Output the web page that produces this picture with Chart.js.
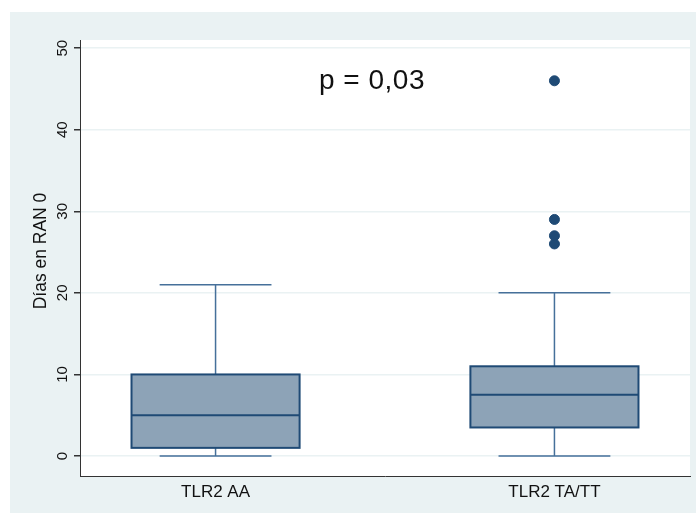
<!DOCTYPE html>
<html>
<head>
<meta charset="utf-8">
<script src="https://cdn.jsdelivr.net/npm/chart.js@4.4.1/dist/chart.umd.min.js"></script>
<style>
  html, body { margin: 0; padding: 0; background: #fff; }
  #wrap { width: 696px; height: 515px; }
</style>
</head>
<body>
<div id="wrap"><canvas id="chart" width="696" height="515"></canvas></div>
<script>
// groups and their box plot summaries
const groups = ['TLR2 AA', 'TLR2 TA/TT'];
const groupPos = [1, 2];
const whiskerLow = [0, 0];
const q1 = [1, 3.5];
const median = [5, 7.5];
const q3 = [10, 11];
const whiskerHigh = [21, 20];
const outliers = [[], [26, 27, 29, 46]];
const yTicks = [0, 10, 20, 30, 40, 50];
const yTitle = 'Días en RAN 0';
const pLabel = 'p = 0,03';

const navy = '#1f4a75';

const outlierPoints = [];
outliers.forEach((vals, i) => vals.forEach(v => outlierPoints.push({ x: groupPos[i], y: v })));

const boxPlugin = {
  id: 'boxes',
  beforeDraw(chart) {
    const { ctx } = chart;
    ctx.save();
    ctx.fillStyle = '#eaf2f3';
    ctx.fillRect(10, 12, 686, 501);
    const a = chart.chartArea;
    ctx.fillStyle = '#ffffff';
    ctx.fillRect(a.left, a.top, a.right - a.left, a.bottom - a.top);
    ctx.restore();
  },
  beforeDatasetsDraw(chart) {
    const { ctx, scales: { x, y } } = chart;
    ctx.save();
    groupPos.forEach((g, i) => {
      const cx = x.getPixelForValue(g);
      const left = x.getPixelForValue(g - 0.248);
      const right = x.getPixelForValue(g + 0.248);
      const capL = x.getPixelForValue(g - 0.165);
      const capR = x.getPixelForValue(g + 0.165);
      const pLow = y.getPixelForValue(whiskerLow[i]);
      const pQ1 = y.getPixelForValue(q1[i]);
      const pMed = y.getPixelForValue(median[i]);
      const pQ3 = y.getPixelForValue(q3[i]);
      const pHigh = y.getPixelForValue(whiskerHigh[i]);

      // whiskers
      ctx.strokeStyle = '#46709a';
      ctx.lineWidth = 1.5;
      ctx.beginPath();
      ctx.moveTo(cx, pQ1); ctx.lineTo(cx, pLow);
      ctx.moveTo(cx, pQ3); ctx.lineTo(cx, pHigh);
      ctx.moveTo(capL, pLow); ctx.lineTo(capR, pLow);
      ctx.moveTo(capL, pHigh); ctx.lineTo(capR, pHigh);
      ctx.stroke();

      // box
      ctx.fillStyle = '#8da3b7';
      ctx.fillRect(left, pQ3, right - left, pQ1 - pQ3);
      ctx.strokeStyle = navy;
      ctx.lineWidth = 2;
      ctx.strokeRect(left, pQ3, right - left, pQ1 - pQ3);
      ctx.beginPath();
      ctx.moveTo(left, pMed); ctx.lineTo(right, pMed);
      ctx.stroke();
    });
    ctx.restore();
  },
  afterDraw(chart) {
    const { ctx, scales: { y } } = chart;
    ctx.save();
    ctx.fillStyle = '#111';
    ctx.textAlign = 'center';
    ctx.textBaseline = 'middle';
    ctx.font = '15px "Liberation Sans", Arial, sans-serif';
    yTicks.forEach(v => {
      ctx.save();
      ctx.translate(63, y.getPixelForValue(v));
      ctx.rotate(-Math.PI / 2);
      ctx.fillText(String(v), 0, 0);
      ctx.restore();
    });
    ctx.font = '17.5px "Liberation Sans", Arial, sans-serif';
    ctx.save();
    ctx.translate(41, 251);
    ctx.rotate(-Math.PI / 2);
    ctx.fillText(yTitle, 0, 0);
    ctx.restore();

    ctx.font = '28px "Liberation Sans", Arial, sans-serif';
    ctx.textAlign = 'left';
    ctx.textBaseline = 'alphabetic';
    ctx.letterSpacing = '0.5px';
    ctx.fillText(pLabel, 319, 89);
    ctx.restore();
  }
};

new Chart(document.getElementById('chart'), {
  type: 'scatter',
  data: {
    datasets: [{
      label: 'outliers',
      data: outlierPoints,
      backgroundColor: navy,
      borderColor: navy,
      pointRadius: 5,
      pointHoverRadius: 5
    }]
  },
  options: {
    responsive: false,
    animation: false,
    layout: { padding: { top: 40, right: 4, left: 0, bottom: 0 } },
    plugins: { legend: { display: false }, tooltip: { enabled: false } },
    scales: {
      x: {
        type: 'linear',
        min: 0.6,
        max: 2.4,
        afterBuildTicks: s => { s.ticks = groupPos.map(v => ({ value: v })); },
        afterFit: s => { s.height = 39; },
        grid: { display: false, drawTicks: false },
        border: { display: true, color: '#333', width: 1 },
        ticks: {
          padding: 6,
          color: '#111',
          font: { family: '"Liberation Sans", Arial', size: 17 },
          callback: v => groups[groupPos.indexOf(v)] || ''
        }
      },
      y: {
        min: -2.45,
        max: 51,
        afterBuildTicks: s => { s.ticks = yTicks.map(v => ({ value: v })); },
        afterFit: s => { s.width = 80; },
        grid: { color: '#eaf2f3', lineWidth: 1.5, tickLength: 6, tickColor: '#333' },
        border: { display: true, color: '#333', width: 1 },
        ticks: { callback: () => '' }
      }
    }
  },
  plugins: [boxPlugin]
});
</script>
</body>
</html>
